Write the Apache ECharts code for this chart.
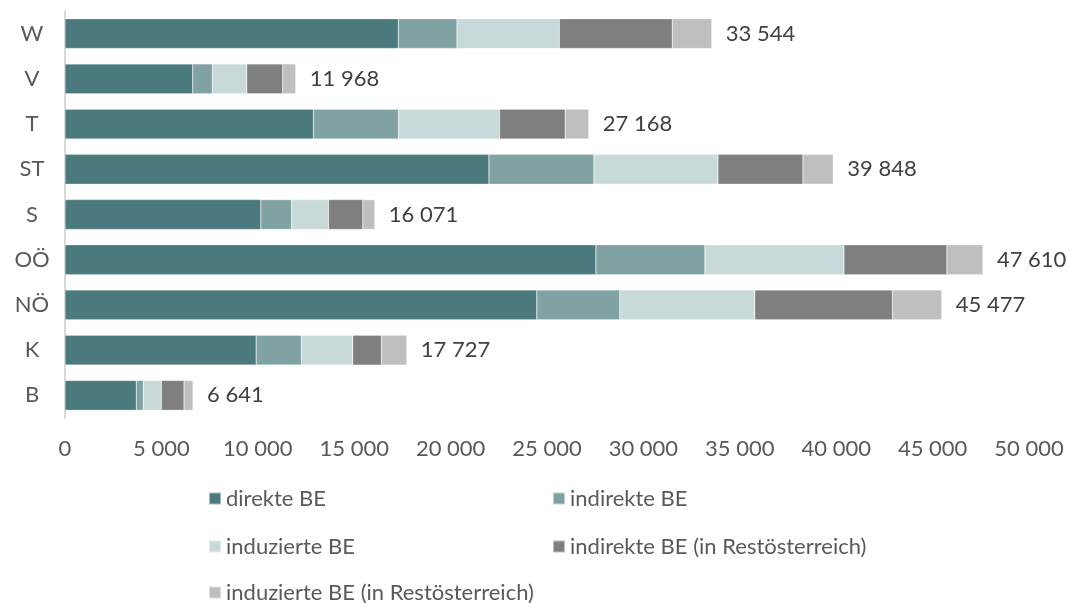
<!DOCTYPE html>
<html>
<head>
<meta charset="utf-8">
<script src="https://cdn.jsdelivr.net/npm/echarts@6/dist/echarts.min.js"></script>
<style>
html,body{margin:0;padding:0;background:#fff;}
#chart{width:1069px;height:603px;}
</style>
</head>
<body>
<div id="chart"></div>
<script>
// Categories (bottom to top)
const categories = ['B', 'K', 'NÖ', 'OÖ', 'S', 'ST', 'T', 'V', 'W'];
// Series values, same order as categories
const direkteBE            = [3700, 9915, 24471, 27537, 10159, 21989, 12888, 6626, 17288];
const indirekteBE          = [363, 2350, 4305, 5654, 1592, 5446, 4409, 1022, 3045];
const induzierteBE         = [934, 2661, 7002, 7210, 1919, 6432, 5239, 1779, 5306];
const indirekteBERest      = [1177, 1489, 7142, 5342, 1779, 4409, 3408, 1867, 5861];
const induzierteBERest     = [467, 1312, 2557, 1867, 622, 1572, 1224, 674, 2044];
// Total labels as printed
const totals               = [6641, 17727, 45477, 47610, 16071, 39848, 27168, 11968, 33544];
// Series names
const seriesNames = ['direkte BE', 'indirekte BE', 'induzierte BE', 'indirekte BE (in Restösterreich)', 'induzierte BE (in Restösterreich)'];
const seriesColors = ['#4A7A7E', '#80A2A3', '#C8D9D9', '#7F7F7F', '#BFBFBF'];

const fmt = v => String(v).replace(/\B(?=(\d{3})+(?!\d))/g, ' ');
const FONT = 'Lato';
const seriesData = [direkteBE, indirekteBE, induzierteBE, indirekteBERest, induzierteBERest];

const series = seriesData.map((d, i) => ({
  name: seriesNames[i],
  type: 'bar',
  stack: 'total',
  barWidth: '66%',
  data: d,
  itemStyle: { color: seriesColors[i], borderColor: 'rgba(255,255,255,0.5)', borderWidth: 0.5 },
  emphasis: { disabled: true },
  label: i === 4 ? {
    show: true,
    position: 'right',
    distance: 14,
    fontFamily: FONT,
    fontSize: 22,
    color: '#404040',
    formatter: p => fmt(totals[p.dataIndex])
  } : { show: false }
}));

// legend layout: [series index, left, top]
const legendSlots = [[0, 208, 486], [1, 552, 486], [2, 208, 534], [3, 552, 534], [4, 208, 580]];
const legends = legendSlots.map(([si, l, t]) => ({
  left: l, top: t, orient: 'horizontal',
  data: [seriesNames[si]],
  icon: 'rect', itemWidth: 12, itemHeight: 12,
  selectedMode: false,
  padding: 0,
  textStyle: { fontFamily: FONT, fontSize: 22, color: '#595959', lineHeight: 25 }
}));

const chart = echarts.init(document.getElementById('chart'), null, { renderer: 'canvas' });
chart.setOption({
  animation: false,
  textStyle: { fontFamily: FONT },
  grid: { left: 65, right: 40, top: 11, bottom: 185, containLabel: false },
  xAxis: {
    type: 'value',
    min: 0, max: 50000, interval: 5000,
    axisLine: { show: false },
    axisTick: { show: false },
    splitLine: { show: false },
    axisLabel: { fontFamily: FONT, fontSize: 22, color: '#595959', margin: 20, formatter: v => fmt(v) }
  },
  yAxis: {
    type: 'category',
    data: categories,
    axisLine: { show: true, lineStyle: { color: '#D9D9D9', width: 2 } },
    axisTick: { show: false },
    axisLabel: { fontFamily: FONT, fontSize: 22, color: '#595959', margin: 33, align: 'center' }
  },
  legend: legends,
  series: series
});
</script>
</body>
</html>
